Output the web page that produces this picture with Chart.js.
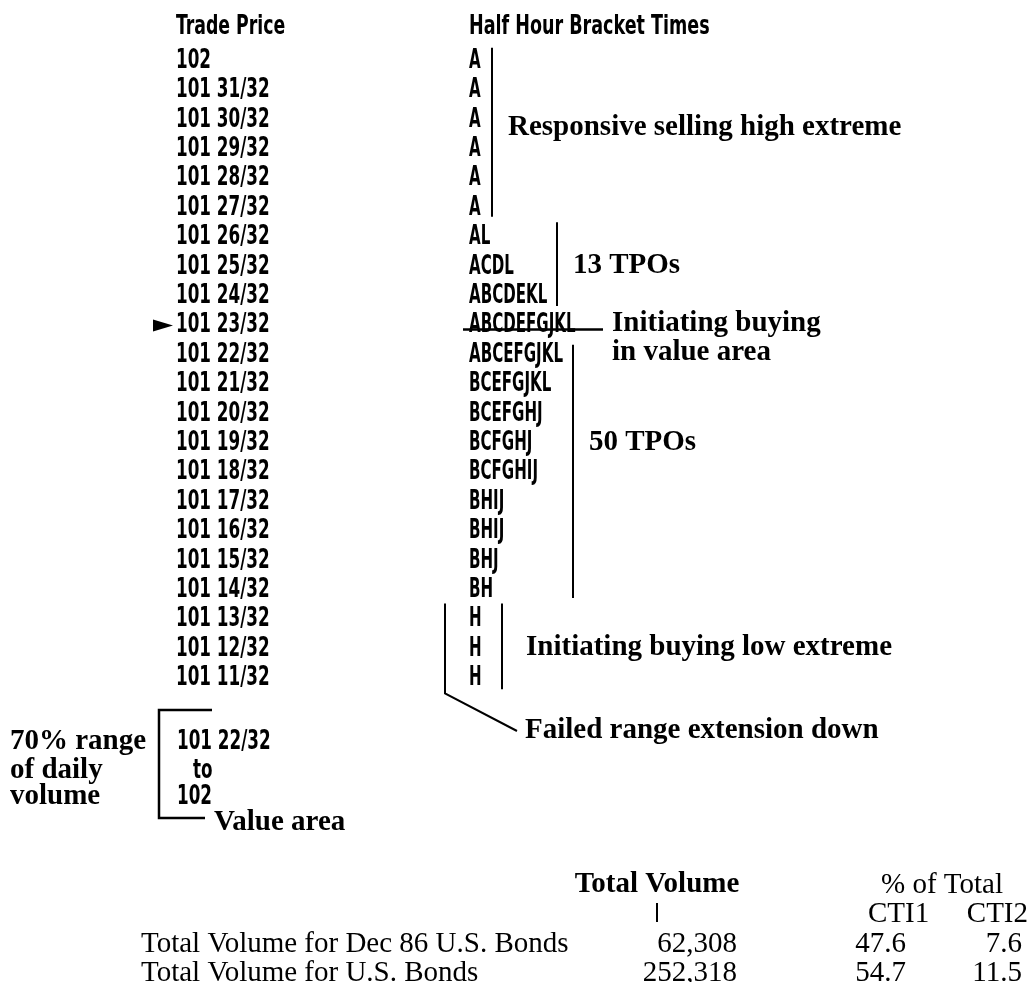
<!DOCTYPE html>
<html><head><meta charset="utf-8">
<script src="https://cdn.jsdelivr.net/npm/chart.js@4.4.1/dist/chart.umd.min.js"></script>
<style>html,body{margin:0;padding:0;background:#fff;}#wrap{width:1033px;height:982px;}</style>
</head><body><div id="wrap"><canvas id="c" width="1033" height="982"></canvas></div>
<script>
// ---- data ----
const prices = ['102','101 31/32','101 30/32','101 29/32','101 28/32','101 27/32','101 26/32','101 25/32',
  '101 24/32','101 23/32','101 22/32','101 21/32','101 20/32','101 19/32','101 18/32','101 17/32',
  '101 16/32','101 15/32','101 14/32','101 13/32','101 12/32','101 11/32'];
const bracketTimes = ['A','A','A','A','A','A','AL','ACDL','ABCDEKL','ABCDEFGJKL','ABCEFGJKL','BCEFGJKL',
  'BCEFGHJ','BCFGHJ','BCFGHIJ','BHIJ','BHIJ','BHJ','BH','H','H','H'];
const columnHeaders = ['Trade Price','Half Hour Bracket Times'];
const markedRow = 9; // 101 23/32
const valueAreaLines = ['101 22/32','to','102'];
const valueAreaNote = ['70% range','of daily','volume'];
const tableRowLabels = ['Total Volume for Dec 86 U.S. Bonds','Total Volume for U.S. Bonds'];
const totalVolume = ['62,308','252,318'];
const pctCTI1 = ['47.6','54.7'];
const pctCTI2 = ['7.6','11.5'];

const SANS = '"DejaVu Sans Condensed","DejaVu Sans",sans-serif';
const SERIF = '"Liberation Serif","DejaVu Serif",serif';

const drawPlugin = {
  id: 'profile',
  afterDraw(chart) {
    const c = chart.ctx, y = chart.scales.y;
    const meta = chart.getDatasetMeta(0);
    const rowY = i => y.getPixelForValue(i);
    c.save();
    c.fillStyle = '#000'; c.strokeStyle = '#000';
    const text = (t, x, yy, font, align, sx) => {
      c.save(); c.translate(x, yy); c.scale(sx || 1, 1);
      c.font = font; c.textAlign = align || 'left'; c.textBaseline = 'middle'; c.fillText(t, 0, 0);
      c.restore();
    };
    const line = (pts, w) => { c.lineWidth = w || 2; c.beginPath(); c.moveTo(pts[0][0], pts[0][1]); for (let k = 1; k < pts.length; k++) c.lineTo(pts[k][0], pts[k][1]); c.stroke(); };
    // headers
    const hFont = 'bold 26px ' + SANS;
    text(columnHeaders[0], 176, 27, hFont, 'left', 0.74);
    text(columnHeaders[1], 469, 27, hFont, 'left', 0.75);
    // price labels, positioned by the y scale
    const pFont = 'bold 27px ' + SANS, P_SX = 0.69, L_SX = 0.62;
    prices.forEach((p, i) => text(p, 176, rowY(i) + 1, pFont, 'left', P_SX));
    // bracket letters at each point
    meta.data.forEach((pt, i) => text(bracketTimes[i], pt.x, pt.y + 1, pFont, 'left', L_SX));
    // arrow at marked row
    const ay = rowY(markedRow) + 1;
    c.beginPath(); c.moveTo(153, ay - 6); c.lineTo(173, ay); c.lineTo(153, ay + 6); c.closePath(); c.fill();
    // strike through
    line([[463, ay + 4], [603, ay + 4]], 2.5);
    const bFont = 'bold 29px ' + SERIF;
    // responsive selling high extreme
    line([[492, rowY(0) - 12], [492, rowY(5) + 10]], 2);
    text('Responsive selling high extreme', 508, 128, bFont);
    // 13 TPOs
    line([[557, rowY(6) - 14], [557, rowY(8) + 11]], 2);
    text('13 TPOs', 573, rowY(7), bFont);
    // initiating buying in value area
    text('Initiating buying', 612, rowY(9) - 1, bFont);
    text('in value area', 612, rowY(10) - 1, bFont);
    // 50 TPOs
    line([[573, rowY(10) - 9], [573, rowY(18) + 9]], 2);
    text('50 TPOs', 589, rowY(13), bFont);
    // low extreme
    line([[502, rowY(19) - 15], [502, rowY(21) + 12]], 2);
    line([[445, rowY(19) - 15], [445, rowY(21) + 16], [517, 731]], 2);
    text('Initiating buying low extreme', 526, rowY(20), bFont);
    text('Failed range extension down', 525, 731, bFont);
    // value area block
    valueAreaNote.forEach((t, i) => text(t, 10, [742, 771, 797][i], bFont));
    line([[212, 710], [159, 710], [159, 818], [205, 818]], 2.5);
    text(valueAreaLines[0], 177, 742, pFont, 'left', P_SX);
    text(valueAreaLines[1], 193, 771, pFont, 'left', P_SX);
    text(valueAreaLines[2], 177, 797, pFont, 'left', P_SX);
    text('Value area', 214, 823, bFont);
    // table
    const tFont = '29px ' + SERIF;
    text('Total Volume', 657, 885, 'bold 29px ' + SERIF, 'center');
    line([[657, 903], [657, 922]], 2);
    text('% of Total', 942, 885, tFont, 'center');
    text('CTI1', 868, 914, tFont);
    text('CTI2', 1028, 914, tFont, 'right');
    tableRowLabels.forEach((t, i) => {
      const yy = 944 + i * 29;
      text(t, 141, yy, tFont);
      text(totalVolume[i], 737, yy, tFont, 'right');
      text(pctCTI1[i], 906, yy, tFont, 'right');
      text(pctCTI2[i], 1022, yy, tFont, 'right');
    });
    c.restore();
  }
};

new Chart(document.getElementById('c'), {
  type: 'scatter',
  data: { labels: prices, datasets: [{ data: prices.map((p, i) => ({ x: 0, y: i })), pointRadius: 0, showLine: false }] },
  options: {
    responsive: false, animation: false, events: [],
    layout: { padding: { left: 176, top: 45, bottom: 290, right: 10 } },
    plugins: { legend: { display: false }, tooltip: { enabled: false } },
    scales: {
      x: { type: 'linear', min: 0, max: 10, display: false },
      y: { type: 'category', labels: prices, offset: true, grid: { display: false }, border: { display: false },
        ticks: { display: false },
        afterFit(s) { s.width = 293; } }
    }
  },
  plugins: [drawPlugin]
});
</script></body></html>
